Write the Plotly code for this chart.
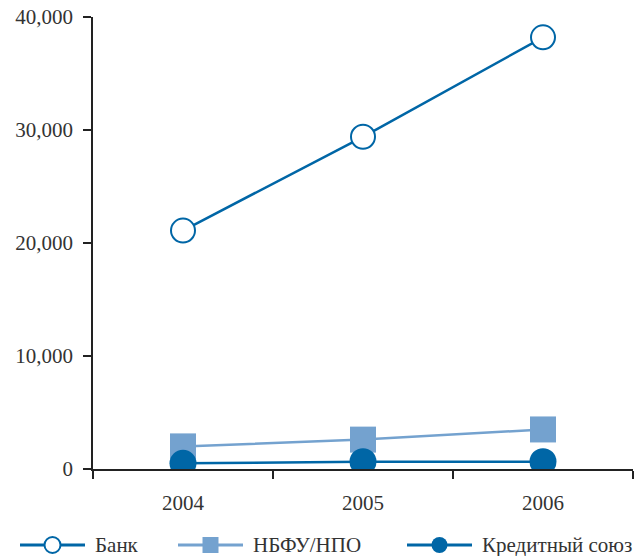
import plotly.graph_objects as go

years = ["2004", "2005", "2006"]
bank = [21100, 29400, 38200]
nbfu = [2000, 2600, 3500]
credit_union = [500, 650, 650]

series_names = ["Банк", "НБФУ/НПО", "Кредитный союз"]

DARK = "#0066a6"
LIGHT = "#74a2cf"
FONT = "Liberation Serif"
TEXT = "#333333"
AXIS = "#222222"
label_font = dict(family=FONT, size=21, color=TEXT)

# plot area geometry (pixels)
W, H = 636, 556
ML, MR, MT, MB = 93, 3, 17, 87
PW, PH = W - ML - MR, H - MT - MB


def px_to_paper_x(px):
    return (px - ML) / PW


def px_to_paper_y(py):
    return (H - MB - py) / PH


styles = [
    dict(line=DARK, symbol="circle", fill="white", edge=DARK, size=24, edge_w=2),
    dict(line=LIGHT, symbol="square", fill=LIGHT, edge=LIGHT, size=26, edge_w=0),
    dict(line=DARK, symbol="circle", fill=DARK, edge=DARK, size=27, edge_w=0),
]
values = [bank, nbfu, credit_union]

fig = go.Figure()
for name, vals, st in zip(series_names, values, styles):
    fig.add_trace(go.Scatter(
        x=years, y=vals, name=name, mode="lines+markers",
        line=dict(color=st["line"], width=2.5),
        marker=dict(symbol=st["symbol"], size=st["size"], color=st["fill"],
                    line=dict(color=st["edge"], width=st["edge_w"])),
        showlegend=False,
    ))

# legend row below the axis: sample line, key marker, label
legend_y = px_to_paper_y(545)
legend_starts = [20, 178, 407]  # left end of each sample line, px
sample_len = 65
key_size = 16
for name, st, x0 in zip(series_names, styles, legend_starts):
    xa = px_to_paper_x(x0)
    xb = px_to_paper_x(x0 + sample_len)
    xm = px_to_paper_x(x0 + sample_len / 2)
    fig.add_shape(type="line", xref="paper", yref="paper",
                  x0=xa, x1=xb, y0=legend_y, y1=legend_y,
                  line=dict(color=st["line"], width=3))
    half = key_size / 2
    fig.add_shape(type="circle" if st["symbol"] == "circle" else "rect",
                  xref="paper", yref="paper",
                  xsizemode="pixel", ysizemode="pixel",
                  xanchor=xm, yanchor=legend_y,
                  x0=-half, x1=half, y0=-half, y1=half,
                  fillcolor=st["fill"],
                  line=dict(color=st["edge"], width=st["edge_w"] or 0))
    fig.add_annotation(xref="paper", yref="paper",
                       x=px_to_paper_x(x0 + sample_len + 8), y=legend_y,
                       xanchor="left", yanchor="middle", showarrow=False,
                       text=name, font=label_font)

fig.update_layout(
    template="none",
    width=W, height=H,
    margin=dict(l=ML, r=MR, t=MT, b=MB, autoexpand=False),
    plot_bgcolor="white", paper_bgcolor="white",
    font=label_font,
    showlegend=False,
)
fig.update_xaxes(
    type="category", range=[-0.5, 2.5],
    showline=True, linecolor=AXIS, linewidth=1.5,
    ticks="outside", tickson="boundaries", ticklen=8,
    tickcolor=AXIS, tickwidth=1.5, tickfont=label_font,
    ticklabelstandoff=14,
    showgrid=False, zeroline=False,
)
fig.update_yaxes(
    range=[0, 40000], tickvals=[0, 10000, 20000, 30000, 40000],
    tickformat=",", showline=True, linecolor=AXIS, linewidth=1.5,
    ticks="outside", ticklen=8, tickcolor=AXIS, tickwidth=1.5,
    tickfont=label_font, ticklabelstandoff=6,
    showgrid=False, zeroline=False,
)

fig.write_html("out.html")
